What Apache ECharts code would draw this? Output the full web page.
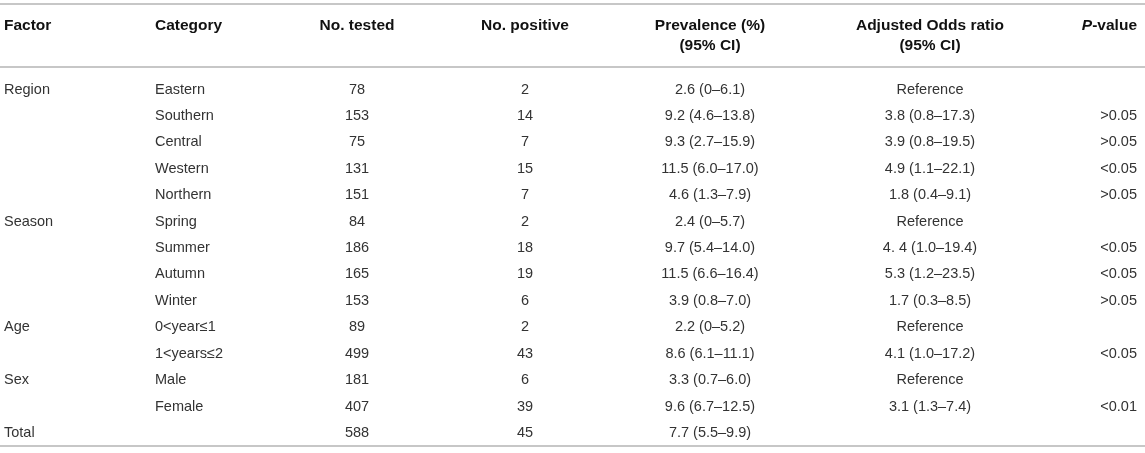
<!DOCTYPE html>
<html>
<head>
<meta charset="utf-8">
<script src="https://cdn.jsdelivr.net/npm/echarts@6/dist/echarts.min.js"></script>
<style>
  html, body { margin: 0; padding: 0; background: #fff; }
  #charts { width: 1145px; height: 453px; }
</style>
</head>
<body>
<div id="charts"></div>
<script>
// table data
const factors = ['Region', '', '', '', '', 'Season', '', '', '', 'Age', '', 'Sex', '', 'Total'];
const categories = ['Eastern', 'Southern', 'Central', 'Western', 'Northern', 'Spring', 'Summer', 'Autumn', 'Winter', '0<year≤1', '1<years≤2', 'Male', 'Female', ''];
const tested = [78, 153, 75, 131, 151, 84, 186, 165, 153, 89, 499, 181, 407, 588];
const positive = [2, 14, 7, 15, 7, 2, 18, 19, 6, 2, 43, 6, 39, 45];
const prevalence = ['2.6 (0–6.1)', '9.2 (4.6–13.8)', '9.3 (2.7–15.9)', '11.5 (6.0–17.0)', '4.6 (1.3–7.9)',
  '2.4 (0–5.7)', '9.7 (5.4–14.0)', '11.5 (6.6–16.4)', '3.9 (0.8–7.0)', '2.2 (0–5.2)', '8.6 (6.1–11.1)',
  '3.3 (0.7–6.0)', '9.6 (6.7–12.5)', '7.7 (5.5–9.9)'];
const oddsRatio = ['Reference', '3.8 (0.8–17.3)', '3.9 (0.8–19.5)', '4.9 (1.1–22.1)', '1.8 (0.4–9.1)',
  'Reference', '4. 4 (1.0–19.4)', '5.3 (1.2–23.5)', '1.7 (0.3–8.5)', 'Reference', '4.1 (1.0–17.2)',
  'Reference', '3.1 (1.3–7.4)', ''];
const pValues = ['', '>0.05', '>0.05', '<0.05', '>0.05', '', '<0.05', '<0.05', '>0.05', '', '<0.05', '', '<0.01', ''];
const headerLine1 = ['Factor', 'Category', 'No. tested', 'No. positive', 'Prevalence (%)', 'Adjusted Odds ratio', '{i|P}-value'];
const headerLine2 = ['', '', '', '', '(95% CI)', '(95% CI)', ''];

const W = 1145;
const FONT = '"Liberation Sans", Arial, Helvetica, sans-serif';
const rowKeys = tested.map((_, i) => 'r' + i);

// column layout: anchor x and alignment
const columns = [
  { values: factors, x: 4, align: 'left' },
  { values: categories, x: 155, align: 'left' },
  { values: tested, x: 357, align: 'center' },
  { values: positive, x: 525, align: 'center' },
  { values: prevalence, x: 710, align: 'center' },
  { values: oddsRatio, x: 930, align: 'center' },
  { values: pValues, x: 1137, align: 'right' }
];

const chart = echarts.init(document.getElementById('charts'), null, { renderer: 'canvas' });

const series = columns.map((col) => ({
  type: 'custom',
  silent: true,
  data: rowKeys.map((k, i) => [col.x, i]),
  renderItem: (params, api) => {
    const p = api.coord([api.value(0), api.value(1)]);
    return {
      type: 'text',
      x: p[0],
      y: p[1],
      style: {
        text: String(col.values[params.dataIndex]),
        align: col.align,
        verticalAlign: 'middle',
        fontFamily: FONT,
        fontSize: 14.5,
        fill: '#333'
      }
    };
  }
}));

// header texts and rules
const graphics = [];
columns.forEach((col, j) => {
  [headerLine1[j], headerLine2[j]].forEach((txt, k) => {
    if (!txt) return;
    graphics.push({
      type: 'text',
      x: col.x,
      y: k === 0 ? 26 : 46,
      silent: true,
      style: {
        text: txt,
        align: col.align,
        verticalAlign: 'middle',
        fontFamily: FONT,
        fontSize: 15.5,
        fontWeight: 'bold',
        fill: '#111',
        rich: {
          i: { fontFamily: FONT, fontSize: 15.5, fontWeight: 'bold', fontStyle: 'italic', fill: '#111' }
        }
      }
    });
  });
});
[4, 67, 446].forEach((y) => {
  graphics.push({
    type: 'line',
    silent: true,
    shape: { x1: 0, y1: y, x2: W, y2: y },
    style: { stroke: '#b4b4b4', lineWidth: 1.6 }
  });
});

const option = {
  animation: false,
  backgroundColor: '#fff',
  grid: { left: 0, right: 0, top: 76.3, bottom: 6.8 },
  xAxis: { type: 'value', min: 0, max: W, show: false },
  yAxis: { type: 'category', data: rowKeys, inverse: true, show: false },
  graphic: graphics,
  series: series
};

chart.setOption(option);
</script>
</body>
</html>
